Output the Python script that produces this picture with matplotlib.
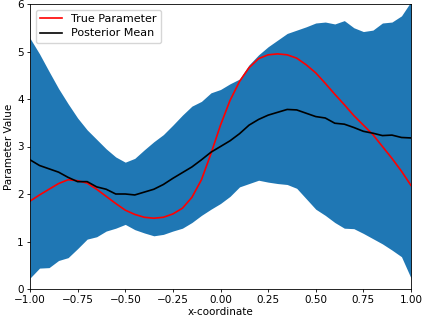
import numpy as np
import matplotlib
matplotlib.use("Agg")
import matplotlib.pyplot as plt

x = [-1.00, -0.95, -0.90, -0.85, -0.80, -0.75, -0.70, -0.65, -0.60, -0.55,
     -0.50, -0.45, -0.40, -0.35, -0.30, -0.25, -0.20, -0.15, -0.10, -0.05,
     0.00, 0.05, 0.10, 0.15, 0.20, 0.25, 0.30, 0.35, 0.40, 0.45,
     0.50, 0.55, 0.60, 0.65, 0.70, 0.75, 0.80, 0.85, 0.90, 0.95, 1.00]

true_param = [1.85, 1.98, 2.10, 2.22, 2.30, 2.28, 2.23, 2.10, 1.95, 1.80,
              1.66, 1.57, 1.51, 1.49, 1.51, 1.58, 1.70, 1.93, 2.30, 2.85,
              3.45, 3.97, 4.37, 4.66, 4.85, 4.93, 4.95, 4.93, 4.86, 4.72,
              4.55, 4.33, 4.10, 3.88, 3.65, 3.45, 3.25, 3.00, 2.75, 2.48, 2.18]

post_mean = [2.72, 2.60, 2.53, 2.46, 2.35, 2.26, 2.26, 2.15, 2.10, 2.00,
             2.00, 1.98, 2.04, 2.10, 2.20, 2.33, 2.45, 2.57, 2.72, 2.88,
             3.00, 3.12, 3.27, 3.45, 3.57, 3.66, 3.72, 3.78, 3.77, 3.70,
             3.63, 3.60, 3.49, 3.47, 3.40, 3.32, 3.28, 3.23, 3.24, 3.19, 3.18]

upper = [5.28, 4.95, 4.58, 4.22, 3.90, 3.60, 3.35, 3.15, 2.95, 2.78,
         2.67, 2.75, 2.93, 3.10, 3.25, 3.45, 3.66, 3.85, 3.95, 4.13,
         4.20, 4.32, 4.42, 4.72, 4.93, 5.10, 5.24, 5.38, 5.45, 5.52,
         5.60, 5.62, 5.58, 5.65, 5.50, 5.42, 5.45, 5.60, 5.62, 5.75, 6.05]

lower = [0.23, 0.44, 0.45, 0.60, 0.66, 0.85, 1.05, 1.10, 1.22, 1.28,
         1.36, 1.25, 1.18, 1.12, 1.15, 1.22, 1.28, 1.40, 1.55, 1.68,
         1.80, 1.95, 2.15, 2.22, 2.29, 2.25, 2.22, 2.20, 2.12, 1.90,
         1.68, 1.55, 1.40, 1.28, 1.27, 1.17, 1.06, 0.95, 0.82, 0.68, 0.23]

plt.rcParams['font.size'] = 7.5

fig = plt.figure(figsize=(4.23, 3.22), dpi=100)
ax = fig.add_axes([30/423, 1 - 289/322, (411-30)/423, (289-4)/322])

ax.fill_between(x, lower, upper, color='#1f77b4', linewidth=0)
ax.plot(x, true_param, color='red', linewidth=1.2, label='True Parameter')
ax.plot(x, post_mean, color='black', linewidth=1.2, label='Posterior Mean')

ax.set_xlim(-1, 1)
ax.set_ylim(0, 6)
ax.set_xticks([-1.0, -0.75, -0.5, -0.25, 0.0, 0.25, 0.5, 0.75, 1.0])
ax.set_xticklabels(['−1.00', '−0.75', '−0.50', '−0.25', '0.00', '0.25', '0.50', '0.75', '1.00'])
ax.set_yticks([0, 1, 2, 3, 4, 5, 6])
ax.tick_params(length=2.5, width=0.6, pad=2)
for s in ax.spines.values():
    s.set_linewidth(0.6)
ax.set_xlabel('x-coordinate', labelpad=1)
ax.set_ylabel('Parameter Value', labelpad=2)
ax.legend(loc='upper left', fontsize=8, handlelength=2.0, borderpad=0.4,
          labelspacing=0.4, framealpha=0.8)

fig.savefig('out.png', dpi=100)
